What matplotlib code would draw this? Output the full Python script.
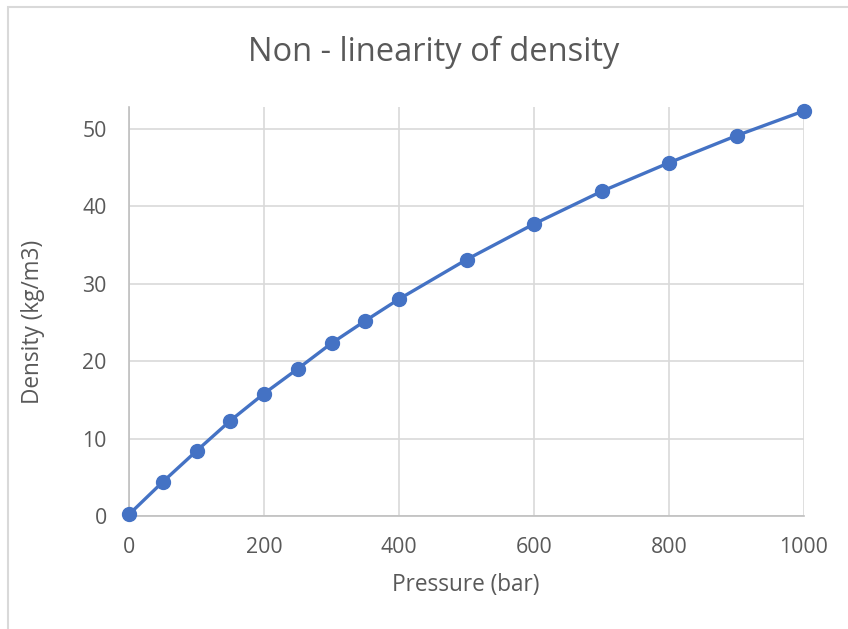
import matplotlib.pyplot as plt
from matplotlib.patches import Rectangle

pressure = [0, 50, 100, 150, 200, 250, 300, 350, 400, 500, 600, 700, 800, 900, 1000]
density = [0.2, 4.4, 8.4, 12.3, 15.8, 19.0, 22.3, 25.2, 28.0, 33.1, 37.7, 41.9, 45.6, 49.1, 52.3]
x_ticks = [0, 200, 400, 600, 800, 1000]
y_ticks = [0, 10, 20, 30, 40, 50]

plt.rcParams['font.family'] = ['Open Sans', 'DejaVu Sans']

fig = plt.figure(figsize=(8.48, 6.29), dpi=100)

# chart area border
fig.patches.append(Rectangle((8 / 848, -0.1), 1.0, 1 - 7 / 629 + 0.1,
                             transform=fig.transFigure, fill=False,
                             edgecolor="#d9d9d9", linewidth=1.5))

ax = fig.add_axes([129 / 848, 1 - 516 / 629, (804 - 129) / 848, (516 - 107) / 629])

ax.plot(pressure, density, color="#4472C4", linewidth=2.4, marker="o",
        markersize=10, clip_on=False, zorder=3)

ax.set_xlim(0, 1000)
ax.set_ylim(0, 52.8)
ax.set_xticks(x_ticks)
ax.set_yticks(y_ticks)
ax.grid(True, color="#d9d9d9", linewidth=1.2)
ax.set_axisbelow(True)

for s in ["top", "right"]:
    ax.spines[s].set_visible(False)
ax.spines["left"].set_color("#bfbfbf")
ax.spines["bottom"].set_color("#bfbfbf")
ax.spines["left"].set_linewidth(1.2)
ax.spines["bottom"].set_linewidth(1.2)

ax.tick_params(length=0, labelsize=15.3, labelcolor="#595959")
ax.tick_params(axis="x", pad=15)
ax.tick_params(axis="y", pad=16)

# axis titles and chart title
fig.text(466 / 848, 1 - 585 / 629, "Pressure (bar)", fontsize=16.3,
         color="#595959", ha="center", va="center")
fig.text(33 / 848, 1 - 322 / 629, "Density (kg/m3)", fontsize=16.3,
         color="#595959", ha="center", va="center", rotation=90)
fig.text(434 / 848, 1 - 52 / 629, "Non - linearity of density", fontsize=23.5,
         color="#595959", ha="center", va="center")

plt.savefig("out.png", dpi=100)
